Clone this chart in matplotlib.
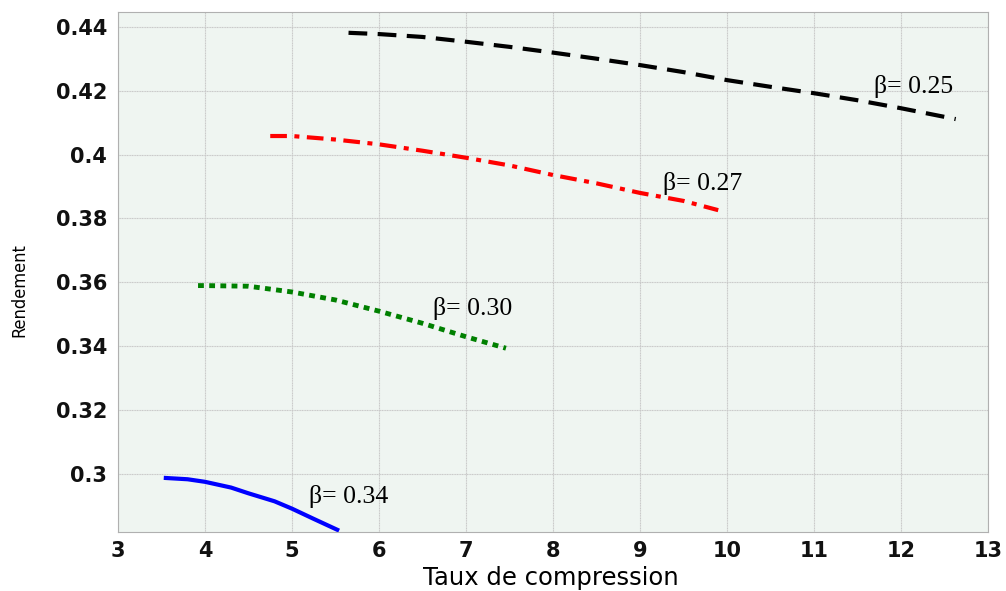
import numpy as np
from matplotlib import pyplot as plt

# Efficiency vs compression ratio for several beta values
x_025 = [5.65, 6.0, 6.5, 7.0, 7.5, 8.0, 8.5, 9.0, 9.5, 10.0, 10.5, 11.0, 11.5, 12.0, 12.63]
y_025 = [0.4381, 0.4377, 0.4368, 0.4353, 0.4337, 0.4319, 0.4300, 0.4280, 0.4258, 0.4233, 0.4212, 0.4192, 0.4170, 0.4145, 0.4111]

x_027 = [4.75, 5.0, 5.5, 6.0, 6.5, 7.0, 7.5, 8.0, 8.5, 9.0, 9.5, 9.9]
y_027 = [0.4058, 0.4058, 0.4047, 0.4032, 0.4012, 0.3990, 0.3966, 0.3936, 0.3910, 0.3880, 0.3855, 0.3826]

x_030 = [3.92, 4.0, 4.5, 5.0, 5.5, 6.0, 6.5, 7.0, 7.46]
y_030 = [0.3590, 0.3590, 0.3588, 0.3570, 0.3545, 0.3510, 0.3472, 0.3430, 0.3394]

x_034 = [3.55, 3.8, 4.0, 4.3, 4.5, 4.8, 5.0, 5.25, 5.52]
y_034 = [0.2988, 0.2984, 0.2976, 0.2958, 0.2940, 0.2915, 0.2892, 0.2860, 0.2826]

labels = ['β= 0.25', 'β= 0.27', 'β= 0.30', 'β= 0.34']
label_pos = [(11.69, 0.4212), (9.27, 0.3910), (6.62, 0.3519), (5.2, 0.2930)]

x_ticks = list(range(3, 14))
y_ticks = [0.30, 0.32, 0.34, 0.36, 0.38, 0.40, 0.42, 0.44]
y_ticklabels = ['0.3', '0.32', '0.34', '0.36', '0.38', '0.4', '0.42', '0.44']

fig = plt.figure(figsize=(10.06, 5.91), dpi=100)
ax = fig.add_axes([0.1173, 0.0993, 0.8647, 0.8809])
ax.set_facecolor('#eff5f1')

ax.plot(x_025, y_025, color='black', lw=3, linestyle=(0, (4.5, 2.5)), solid_capstyle='butt')
ax.plot(x_027, y_027, color='red', lw=3, linestyle=(0, (4.0, 1.8, 1.2, 1.8)))
ax.plot(x_030, y_030, color='green', lw=3.5, linestyle=(0, (1.2, 1.1)))
ax.plot(x_034, y_034, color='blue', lw=3)

for txt, (tx, ty) in zip(labels, label_pos):
    ax.text(tx, ty, txt, fontsize=18.5, family='Liberation Serif', va='center', ha='left')

ax.set_xlim(3, 13)
ax.set_ylim(0.2818, 0.4447)
ax.set_xticks(x_ticks)
ax.set_yticks(y_ticks)
ax.set_yticklabels(y_ticklabels)
ax.grid(True, color='#c8c8c8', linestyle=(0, (1, 0.5)), linewidth=0.8)
ax.set_axisbelow(True)

for s in ax.spines.values():
    s.set_color('#b0b0b0')
ax.tick_params(length=0, labelsize=15, colors='#111111')
ax.tick_params(axis='x', pad=6)
ax.tick_params(axis='y', pad=8)
for lab in ax.get_xticklabels() + ax.get_yticklabels():
    lab.set_fontweight('semibold')

# axis titles
fig.text(551 / 1006, 1 - 578 / 591, 'Taux de compression', fontsize=17.5,
         ha='center', va='center')
fig.text(19 / 1006, 1 - 290 / 591, 'Rendement', fontsize=13, rotation=90,
         fontstretch='condensed', ha='center', va='center')

fig.savefig('out.png', dpi=100)
